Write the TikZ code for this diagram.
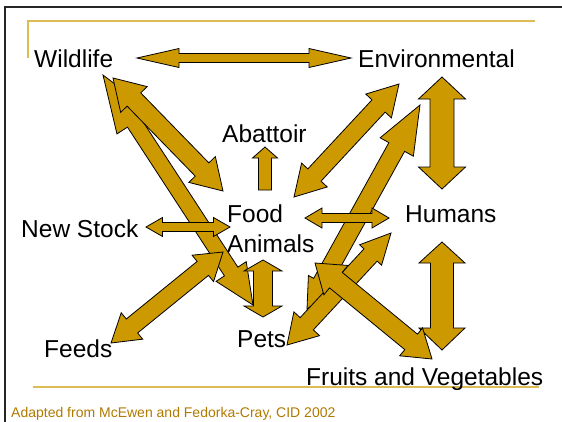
\documentclass[tikz,border=0pt]{standalone}
\usepackage{fontspec}
\setmainfont{Liberation Sans}
\usetikzlibrary{calc}
\definecolor{gold}{RGB}{204,153,0}
\definecolor{rulegold}{RGB}{221,187,85}
\definecolor{citegold}{RGB}{176,122,0}
\tikzset{
  blockarr/.style={fill=gold, draw=black, line width=0.8pt, line join=miter},
  lbl/.style={anchor=base west, inner sep=0pt, font=\fontsize{24.5}{30}\selectfont},
}
% #1 start, #2 end, #3 shaft half width, #4 head half width (start), #5 head length (start),
% #6 head half width (end), #7 head length (end)
\newcommand\blockarrow[7]{%
  \filldraw[blockarr] (#1)
   -- ($(#1)!#5pt!(#2)!#4pt!90:(#2)$)
   -- ($(#1)!#5pt!(#2)!#3pt!90:(#2)$)
   -- ($(#2)!#7pt!(#1)!#3pt!-90:(#1)$)
   -- ($(#2)!#7pt!(#1)!#6pt!-90:(#1)$)
   -- (#2)
   -- ($(#2)!#7pt!(#1)!#6pt!90:(#1)$)
   -- ($(#2)!#7pt!(#1)!#3pt!90:(#1)$)
   -- ($(#1)!#5pt!(#2)!#3pt!-90:(#2)$)
   -- ($(#1)!#5pt!(#2)!#4pt!-90:(#2)$)
   -- cycle;}
\begin{document}
\begin{tikzpicture}[x=1pt, y=-1pt]
\useasboundingbox (0,0) rectangle (562,421);
\clip (0,0) rectangle (562,421);
\fill[white] (0,0) rectangle (562,421);
% slide frame
\draw[black!85, line width=2pt] (5,430) -- (5,7) -- (570,7);
% gold rules
\draw[rulegold, line width=1.2pt] (28,58) -- (28,21) -- (535,21);
\draw[rulegold, line width=1.5pt] (33,387) -- (539,387);

% labels
\node[lbl] (wl) at (34,67) {Wildlife};
\node[lbl] (env) at (358,67) {Environmental};
\node[lbl] (ab) at (222,142.5) {Abattoir};
\node[lbl, align=left] (fa) at (227,252) {Food\\Animals};
\node[lbl] (ns) at (21,237) {New Stock};
\node[lbl] (hu) at (405,222) {Humans};
\node[lbl] (fe) at (44,357.5) {Feeds};
\node[lbl] (pe) at (237,347.5) {Pets};
\node[lbl] (fv) at (306,385.5) {Fruits and Vegetables};
\node[anchor=base west, inner sep=0pt, text=citegold, font=\fontsize{14}{16}\selectfont] (cite) at (11,417.5) {Adapted from McEwen and Fedorka-Cray, CID 2002};

% arrow end points
\coordinate (a1) at (103,75);  \coordinate (a2) at (253,305);
\coordinate (b1) at (113,78);  \coordinate (b2) at (223,191);
\coordinate (h1) at (146,227); \coordinate (h2) at (230,227);
\coordinate (i1) at (111,343); \coordinate (i2) at (223,252);
\coordinate (j1) at (263,260); \coordinate (j2) at (263,317);
\coordinate (c1) at (265,190); \coordinate (c2) at (265,147);
\coordinate (d1) at (399,84);  \coordinate (d2) at (294,197);
\coordinate (e1) at (442,77);  \coordinate (e2) at (442,189);
\coordinate (k1) at (420,105); \coordinate (k2) at (307,309);
\coordinate (g1) at (305,218); \coordinate (g2) at (389,218);
\coordinate (n1) at (287,345); \coordinate (n2) at (391,233);
\coordinate (f1) at (442,242); \coordinate (f2) at (442,350);
\coordinate (m1) at (315,263); \coordinate (m2) at (432,359);
\coordinate (w1) at (137,58);  \coordinate (w2) at (351,58);

% arrows (back to front)
\blockarrow{a1}{a2}{8}{20.5}{57}{18}{40}
\blockarrow{b1}{b2}{9.5}{18.5}{30}{18.5}{30}
\blockarrow{h1}{h2}{4.5}{9.5}{16.5}{9.5}{16.5}
\blockarrow{i1}{i2}{9}{17}{27}{17}{26}
\blockarrow{j1}{j2}{9.5}{19}{11}{19}{11}
\blockarrow{c1}{c2}{6.5}{6.5}{0}{12.5}{11}
\blockarrow{d1}{d2}{9}{17.5}{30}{17.5}{30}
\blockarrow{e1}{e2}{12}{23.5}{22}{23.5}{22}
\blockarrow{k1}{k2}{9}{19}{48}{15}{30}
\blockarrow{g1}{g2}{4.5}{10}{17}{10}{17}
\blockarrow{n1}{n2}{9}{17.5}{29}{15}{30}
\blockarrow{f1}{f2}{11.5}{23}{21}{23}{22}
\blockarrow{m1}{m2}{10}{19}{27}{18}{27}
\blockarrow{w1}{w2}{4.5}{9.5}{42}{9.5}{42}
\end{tikzpicture}
\end{document}
